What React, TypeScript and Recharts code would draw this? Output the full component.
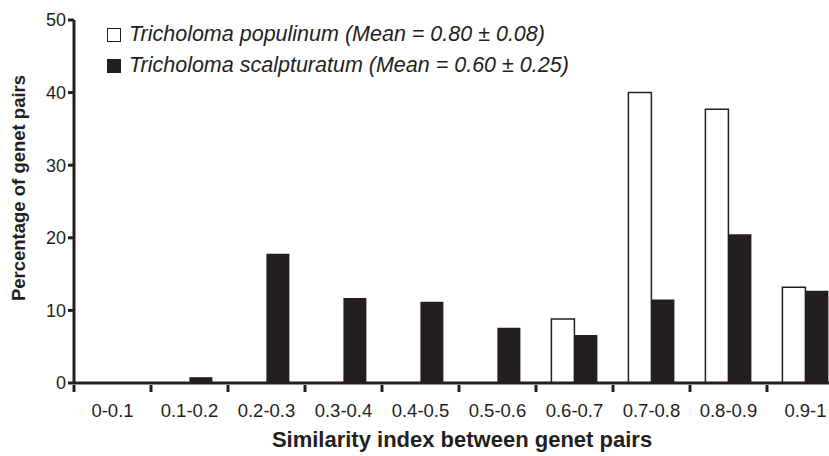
import { BarChart, Bar, XAxis, YAxis } from 'recharts';

const categories = ['0-0.1', '0.1-0.2', '0.2-0.3', '0.3-0.4', '0.4-0.5', '0.5-0.6', '0.6-0.7', '0.7-0.8', '0.8-0.9', '0.9-1'];
const populinum = [0, 0, 0, 0, 0, 0, 8.8, 40.0, 37.7, 13.2];
const scalpturatum = [0, 0.8, 17.8, 11.7, 11.2, 7.6, 6.6, 11.5, 20.5, 12.7];
const yTicks = [0, 10, 20, 30, 40, 50];
const seriesNames = [
  'Tricholoma populinum (Mean = 0.80 ± 0.08)',
  'Tricholoma scalpturatum (Mean = 0.60 ± 0.25)',
];

const INK = '#231f20';
const FONT = '"Liberation Sans", Arial, Helvetica, sans-serif';
const BAND = 77;

const data = categories.map((c, i) => ({
  cat: c,
  populinum: populinum[i],
  scalpturatum: scalpturatum[i],
}));

// tick marks sit on the category boundaries, labels in the middle
const XTick = (props: any) => {
  const { x, y, payload } = props;
  const left = x - BAND / 2;
  return (
    <g>
      <line x1={left} y1={y - 6} x2={left} y2={y + 1} stroke={INK} strokeWidth={3} />
      <text x={x} y={y + 26} textAnchor="middle" fill={INK} fontSize={18.5} fontFamily={FONT}>
        {payload.value}
      </text>
    </g>
  );
};

export default function App() {
  return (
    <div style={{ position: 'fixed', left: 0, top: 0, width: 829, height: 456, overflow: 'hidden', background: '#fff' }}>
      <BarChart
        width={850}
        height={456}
        data={data}
        margin={{ top: 20, right: 6, left: 0, bottom: 0 }}
        barCategoryGap="20%"
        barGap={0}
      >
        <XAxis
          dataKey="cat"
          height={73}
          axisLine={{ stroke: INK, strokeWidth: 3 }}
          tickLine={false}
          tick={<XTick />}
          interval={0}
        />
        <YAxis
          width={74}
          domain={[0, 50]}
          ticks={yTicks}
          axisLine={{ stroke: INK, strokeWidth: 3 }}
          tickLine={{ stroke: INK, strokeWidth: 3 }}
          tickSize={6}
          tick={{ fill: INK, fontSize: 18, fontFamily: FONT }}
        />
        <Bar dataKey="populinum" fill="#fff" stroke={INK} strokeWidth={1.5} isAnimationActive={false} />
        <Bar dataKey="scalpturatum" fill={INK} isAnimationActive={false} />
      </BarChart>
      <div
        style={{
          position: 'absolute',
          left: 107,
          top: 19,
          fontFamily: FONT,
          fontStyle: 'italic',
          fontSize: 21.5,
          color: INK,
          lineHeight: '31px',
        }}
      >
        {seriesNames.map((name, i) => (
          <div key={name} style={{ display: 'flex', alignItems: 'center', whiteSpace: 'nowrap' }}>
            <span
              style={{
                display: 'inline-block',
                width: 12,
                height: 12,
                marginRight: 8,
                border: `1.5px solid ${INK}`,
                background: i === 0 ? '#fff' : INK,
              }}
            />
            {name}
          </div>
        ))}
      </div>
      <div
        style={{
          position: 'absolute',
          left: 19,
          top: 188,
          transform: 'translate(-50%, -50%) rotate(-90deg)',
          whiteSpace: 'nowrap',
          fontFamily: FONT,
          fontWeight: 'bold',
          fontSize: 18.5,
          color: INK,
        }}
      >
        Percentage of genet pairs
      </div>
      <div
        style={{
          position: 'absolute',
          left: 462,
          top: 440,
          transform: 'translate(-50%, -50%)',
          whiteSpace: 'nowrap',
          fontFamily: FONT,
          fontWeight: 'bold',
          fontSize: 22,
          color: INK,
        }}
      >
        Similarity index between genet pairs
      </div>
    </div>
  );
}
